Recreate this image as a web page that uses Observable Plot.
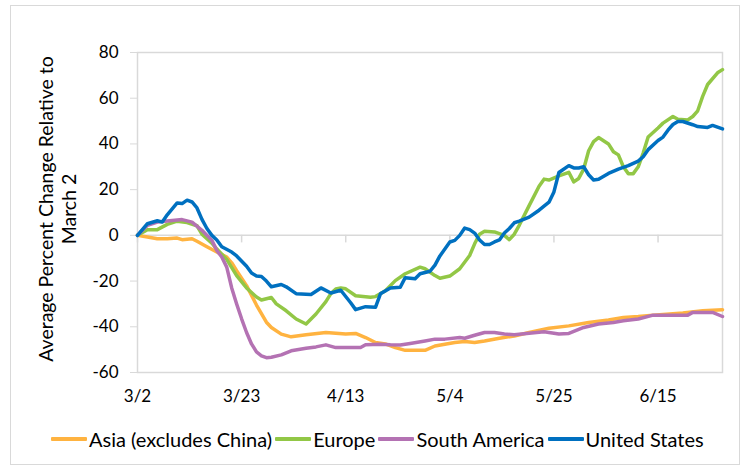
<!DOCTYPE html>
<html>
<head>
<meta charset="utf-8">
<script src="https://cdn.jsdelivr.net/npm/d3@7"></script>
<script src="https://cdn.jsdelivr.net/npm/@observablehq/plot@0.6"></script>
<style>
  body { margin: 0; background: #fff; font-family: Lato, "Open Sans", sans-serif; }
  #wrap { position: relative; width: 748px; height: 470px; overflow: hidden; }
  #frame { position: absolute; left: 10px; top: 5px; width: 730px; height: 460px; border: 1px solid #d9d9d9; box-sizing: border-box; pointer-events: none; }
  #chart { position: absolute; left: 0; top: 0; }
  #legend { position: absolute; left: 51px; top: 426px; display: flex; align-items: center; font-size: 20px; line-height: 26px; color: #000; white-space: nowrap; }
  .item { display: flex; align-items: center; margin-right: 3px; }
  .sw { width: 36px; height: 4px; margin-right: 2px; border-radius: 1px; }
</style>
</head>
<body>
<div id="wrap">
  <div id="chart"></div>
  <div id="legend"></div>
  <div id="frame"></div>
</div>
<script>
// ---- data (day offsets from March 2) ----
const categories = ["Asia (excludes China)", "Europe", "South America", "United States"];
const colors = ["#FFB340", "#92C746", "#B472B3", "#0070C0"];
const tickDays = [0, 21, 42, 63, 84, 105];
const tickLabels = ["3/2", "3/23", "4/13", "5/4", "5/25", "6/15"];
const yTicks = [-60, -40, -20, 0, 20, 40, 60, 80];
const yTitle = ["Average Percent Change Relative to", "March 2"];

const asia = [[0,0],[2,-0.7],[4,-1.5],[6,-1.5],[8,-1.2],[9,-1.9],[11,-1.5],[12,-2.6],[14,-5],[16,-7.3],[18,-9.5],[19,-12],[20,-15.5],[22,-22],[24,-30.5],[26,-38],[27,-40.3],[29,-43.2],[31,-44.4],[34,-43.5],[38,-42.5],[40,-42.8],[42,-43.2],[44,-42.9],[46,-44.7],[48,-46.9],[50,-47.5],[52,-49.1],[54,-50.3],[58,-50.3],[60,-48.4],[64,-46.9],[66,-46.4],[68,-46.9],[70,-46.2],[73,-45],[76,-44],[79,-42.5],[83,-40.6],[87,-39.6],[91,-38.1],[95,-37],[98,-35.9],[101,-35.5],[104,-34.9],[110,-34],[114,-33],[118,-32.5]];

const europe = [[0,0],[2,2.5],[4,2.5],[6,4.8],[8,6.2],[10,5.6],[12,4.2],[13,0.5],[15,-3.4],[16,-6],[18,-10.5],[20,-17.6],[22,-23],[24,-27],[25,-28.3],[27,-27.2],[28,-30],[30,-33],[32,-36.6],[34,-38.8],[36,-34.4],[38,-29],[39,-25.5],[40,-23.5],[41,-23],[42,-23.4],[44,-26.4],[47,-27.1],[48,-26.8],[50,-24.2],[52,-19.8],[54,-16.8],[57,-13.9],[58,-14.6],[60,-17.6],[61,-18.8],[63,-17.8],[65,-14.6],[67,-8.8],[68,-3.7],[69,0.5],[70,1.8],[72,1.5],[74,0],[75,-1.9],[76,0.5],[77,4.4],[79,13],[81,21.5],[82,24.6],[83,24.2],[85,26],[87,27.6],[88,23.4],[89,24.9],[90,29],[91,37],[92,41],[93,42.8],[95,40],[96,36.6],[97,35.2],[98,30],[99,27],[100,27],[101,30],[102,36],[103,43],[105,47],[106,49.1],[108,52],[109,50.8],[111,50.5],[112,52],[113,54.5],[114,60.8],[115,66],[117,71.1],[118,72.5]];

const southAmerica = [[0,0],[2,4.4],[4,5.8],[6,6.3],[9,6.9],[11,5.8],[13,2.2],[15,-2.2],[16,-6.6],[17,-9.5],[18,-13.9],[19,-23],[20,-30],[21,-36.5],[22,-42.5],[23,-47.5],[24,-51],[25,-52.7],[26,-53.5],[27,-53.3],[29,-52.3],[31,-50.5],[34,-49.4],[36,-48.8],[38,-47.9],[40,-49.1],[42,-49.1],[45,-49.1],[46,-47.9],[49,-47.6],[51,-47.9],[53,-48],[55,-47.3],[58,-46.2],[60,-45.4],[62,-45.4],[65,-44.7],[66,-45],[68,-43.7],[70,-42.5],[72,-42.5],[74,-43.2],[76,-43.5],[79,-42.8],[82,-42.2],[85,-43.2],[87,-42.9],[90,-40.3],[93,-38.8],[96,-38.1],[98,-37.4],[101,-36.6],[104,-34.9],[107,-34.9],[111,-34.9],[112,-33.7],[116,-33.7],[118,-35.5]];

const unitedStates = [[0,0],[2,5.1],[4,6.4],[5,5.8],[6,9],[8,14.2],[9,13.9],[10,15.4],[11,14.6],[12,12],[13,7],[14,3],[15,0],[16,-2],[17,-5],[19,-7.3],[20,-9],[22,-13.5],[23,-16.5],[24,-17.8],[25,-18],[26,-20],[27,-22.5],[29,-21.5],[30,-22.5],[32,-25.5],[35,-25.9],[37,-23],[39,-25.2],[41,-24],[43,-29.5],[44,-32.5],[46,-31.2],[48,-31.5],[49,-25.6],[51,-23],[53,-22.7],[54,-18.5],[56,-19],[57,-16.8],[59,-15.7],[60,-13],[61,-9],[63,-2.9],[64,-2.2],[65,0],[66,3.2],[67,2.5],[68,1],[69,-2],[70,-4],[71,-4],[72,-2.9],[73,-2],[74,1],[75,3],[76,5.5],[77,6.2],[79,8],[81,11],[83,14.5],[84,19],[85,27.5],[87,30.5],[88,29.5],[89,29.5],[90,30],[91,26.5],[92,24.2],[93,24.5],[95,27.1],[97,29],[99,30.5],[101,32.5],[102,34.4],[103,37.5],[105,41.5],[106,43],[107,46],[108,48.5],[109,49.8],[110,49.8],[112,48.4],[113,47.6],[115,47.2],[116,48.1],[118,46.6]];

const seriesValues = [asia, europe, southAmerica, unitedStates];
const rows = seriesValues.flatMap((s, i) => s.map(([day, value]) => ({ day, value, region: categories[i] })));

const plot = Plot.plot({
  width: 748,
  height: 415,
  marginLeft: 137,
  marginRight: 26,
  marginTop: 52,
  marginBottom: 43,
  style: { fontFamily: "Lato, 'Open Sans', sans-serif", fontSize: "17px", color: "#000", background: "transparent" },
  x: { domain: [0, 118] },
  y: { domain: [-60, 80] },
  color: { domain: categories, range: colors },
  marks: [
    Plot.frame({ stroke: "#d9d9d9", strokeWidth: 1.5 }),
    Plot.ruleY([0], { stroke: "#d9d9d9", strokeWidth: 1.5 }),
    Plot.ruleX(tickDays, { x: d => d, y1: 0, y2: -3.3, stroke: "#d9d9d9", strokeWidth: 1.5 }),
    Plot.axisY({ ticks: yTicks, tickSize: 7, tickPadding: 12, stroke: "#d9d9d9", fill: "#000", label: null, tickFormat: d => String(d) }),
    Plot.axisX({ ticks: tickDays, tickSize: 0, tickPadding: 17, fill: "#000", label: null, tickFormat: d => tickLabels[tickDays.indexOf(d)] }),
    Plot.line(rows, { x: "day", y: "value", z: "region", stroke: "region", strokeWidth: 3.5, strokeLinejoin: "round", strokeLinecap: "round" })
  ]
});
document.getElementById("chart").appendChild(plot);

// y-axis title (two lines, rotated)
const svg = d3.select(plot);
const cy = 209;
[45, 68].forEach((x, i) => {
  svg.append("text")
    .attr("transform", `translate(${x},${cy}) rotate(-90)`)
    .attr("text-anchor", "middle")
    .attr("dominant-baseline", "central")
    .attr("fill", "#000")
    .style("font-size", "19.5px")
    .text(yTitle[i]);
});

// legend
const legend = d3.select("#legend");
categories.forEach((c, i) => {
  const it = legend.append("div").attr("class", "item");
  it.append("div").attr("class", "sw").style("background", colors[i]);
  it.append("span").text(c);
});
</script>
</body>
</html>
